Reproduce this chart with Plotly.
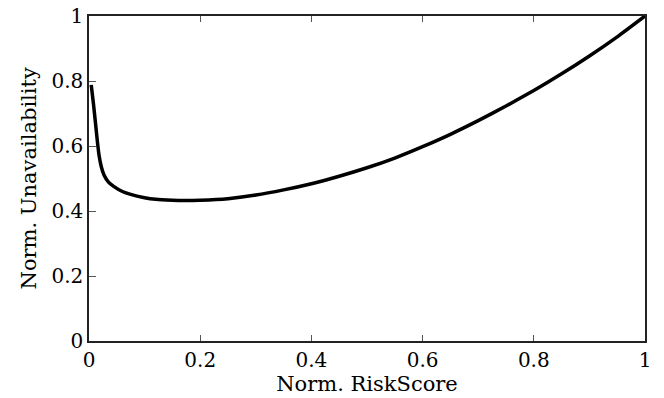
import plotly.graph_objects as go

risk_score = [0.004, 0.008, 0.012, 0.015, 0.018, 0.022, 0.027, 0.035, 0.045, 0.06, 0.075, 0.1, 0.12,
              0.15, 0.17, 0.2, 0.25, 0.3, 0.35, 0.4, 0.45, 0.5, 0.55, 0.6, 0.65, 0.7, 0.75,
              0.8, 0.85, 0.9, 0.95, 1.0]
unavailability = [0.788, 0.73, 0.665, 0.615, 0.572, 0.537, 0.511, 0.489, 0.475, 0.46, 0.451, 0.441, 0.436,
                  0.433, 0.432, 0.433, 0.438, 0.449, 0.465, 0.484, 0.507, 0.533, 0.563, 0.598, 0.636, 0.678, 0.723,
                  0.771, 0.822, 0.877, 0.936, 1.0]

tick_vals = [0, 0.2, 0.4, 0.6, 0.8, 1]
tick_text = ["0", "0.2", "0.4", "0.6", "0.8", "1"]
x_title = "Norm. RiskScore"
y_title = "Norm. Unavailability"

font_family = "DejaVu Serif"
font_size = 20
title_size = 21

fig = go.Figure()
fig.add_trace(go.Scatter(
    x=risk_score, y=unavailability, mode="lines",
    line=dict(color="black", width=3.5, shape="spline", smoothing=0.5),
    showlegend=False, hoverinfo="skip",
))

axis_common = dict(
    range=[0, 1], tickvals=tick_vals, ticktext=tick_text, automargin=False,
    ticklabeloverflow="allow",
    showgrid=False, zeroline=False, showline=True, linecolor="#222", linewidth=1.5,
    ticks="inside", tickcolor="#555", tickwidth=1,
    tickfont=dict(family=font_family, size=font_size, color="black"),
)

fig.update_layout(
    width=664, height=398,
    margin=dict(l=89, r=19, t=16, b=57),
    paper_bgcolor="white", plot_bgcolor="white",
    font=dict(family=font_family, size=font_size, color="black"),
    xaxis=dict(**axis_common, mirror="ticks", ticklen=6,
               title=dict(text=x_title, font=dict(family=font_family, size=title_size), standoff=2)),
    yaxis=dict(**axis_common, mirror=True, ticklen=7),
    annotations=[dict(
        text=y_title, textangle=-90, xref="paper", yref="paper",
        x=-0.108, y=0.5, xanchor="center", yanchor="middle", showarrow=False,
        font=dict(family=font_family, size=title_size, color="black"),
    )],
)

fig.write_html("out.html", config={"displayModeBar": False},
               post_script="document.body.style.margin='0';")
